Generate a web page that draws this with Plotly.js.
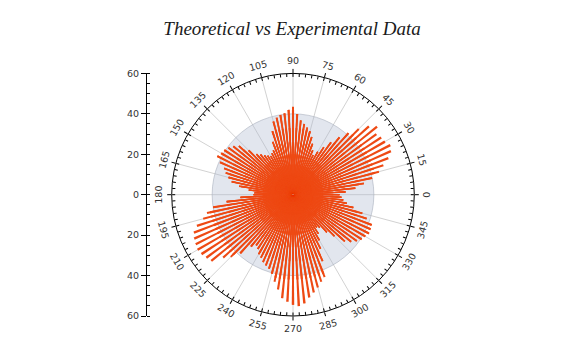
<!DOCTYPE html>
<html><head><meta charset="utf-8">
<script src="https://cdn.plot.ly/plotly-3.0.1.min.js"></script>
<style>html,body{margin:0;padding:0;background:#fff}</style>
</head><body><div id="chart" style="width:572px;height:354px"></div>
<script>
// Experimental bars, one every 3 degrees starting at 0 (counter-clockwise)
const experimental = [
  23, 26, 31, 35.5, 40, 44, 47, 50.5, 53, 54,
  52.5, 52, 51, 53.5, 50.5, 46, 41, 36.5, 32, 28,
  24.5, 22, 24, 27, 30, 32.5, 34, 35.5, 37, 40,
  43.5, 42, 40.5, 40, 39, 37.5, 33, 28, 24, 23,
  22, 23, 24, 25.5, 27, 31, 36, 38, 39.5, 40.5,
  41, 42, 39.5, 36.5, 35, 33, 31, 27, 22, 19,
  19.5, 26, 33, 40, 43.5, 46, 50, 52.5, 53.5, 54,
  54.5, 54, 53, 52, 46.5, 43.5, 39, 33, 31, 32,
  34, 35, 36.5, 37.5, 38.5, 40.5, 44, 47.5, 51.5, 53,
  54.5, 55.2, 54, 51.5, 49.5, 47.5, 45.3, 43.7, 36, 30,
  26, 23, 20, 21, 25, 29, 34.5, 37, 39, 40.5,
  41.3, 42.3, 42, 41.7, 38.3, 35.5, 30.5, 27, 25, 24
];
const expTheta0 = 0;
const expDTheta = 3;
// Theoretical level (shaded disc)
const theoretical = [40];
const theoreticalTheta = [0];
const theoreticalSpan = [360];

const angleTicks = [0,15,30,45,60,75,90,105,120,135,150,165,180,195,210,225,240,255,270,285,300,315,330,345];
const radialTickVals = [-60,-40,-20,0,20,40,60];
const radialTickText = ['60','40','20','0','20','40','60'];

const W = 572, H = 354;
const cx = 293, cy = 194.7, R = 121.3, labelR = 134;
const dom = {
  x: [(cx - R) / W, (cx + R) / W],
  y: [1 - (cy + R) / H, 1 - (cy - R) / H]
};

const tickFont = {family: 'DejaVu Sans, Verdana, sans-serif', size: 9.5, color: '#333'};
const barColor = '#ee4913';

// The original draws each bar as a strip of constant pixel width, so bars merge
// near the centre. Emulate with nested segments whose angular width shrinks outward.
const stripSteps = [[10, 3.0], [15, 2.6], [20, 2.2], [26, 1.9], [33, 1.65], [42, 1.45], [Infinity, 1.3]];

const traces = [
  {
    type: 'barpolar', name: 'Theoretical', subplot: 'polar',
    r: theoretical, theta: theoreticalTheta, width: theoreticalSpan,
    marker: {color: 'rgba(175,186,208,0.36)', line: {color: 'rgba(170,176,190,0.6)', width: 1}},
    hoverinfo: 'skip', showlegend: false
  }
];
stripSteps.forEach(([upper, w], k) => {
  traces.push({
    type: 'barpolar', name: 'Experimental', subplot: 'polar',
    r: experimental.map(v => Math.min(v, upper)),
    theta0: expTheta0, dtheta: expDTheta, width: w,
    marker: {color: barColor, line: {width: 0}},
    hoverinfo: k === stripSteps.length - 1 ? 'r+theta' : 'skip',
    showlegend: false
  });
});
traces.push({type: 'scatterpolar', subplot: 'polar2', r: [], theta: [], showlegend: false, hoverinfo: 'skip'});
traces.push({type: 'scatter', x: [], y: [], xaxis: 'x', yaxis: 'y', showlegend: false, hoverinfo: 'skip'});

const annotations = angleTicks.map(t => {
  const a = t * Math.PI / 180;
  const px = cx + labelR * Math.cos(a);
  const py = cy - labelR * Math.sin(a);
  let rot = 90 - t;
  while (rot >= 90) rot -= 180;
  while (rot < -90) rot += 180;
  return {
    xref: 'paper', yref: 'paper', x: px / W, y: 1 - py / H,
    xanchor: 'center', yanchor: 'middle', showarrow: false,
    text: String(t), textangle: rot, font: tickFont
  };
});

const layout = {
  width: W, height: H,
  margin: {l: 0, r: 0, t: 0, b: 0},
  paper_bgcolor: '#fff', plot_bgcolor: 'rgba(0,0,0,0)',
  showlegend: false,
  title: {
    text: '<i>Theoretical vs Experimental Data</i>',
    font: {family: 'Liberation Serif, Times New Roman, serif', size: 19, color: '#1a1a1a'},
    x: 292 / W, xanchor: 'center', xref: 'container',
    y: 1 - 28 / H, yanchor: 'middle', yref: 'container'
  },
  polar: {
    domain: dom,
    bgcolor: '#fff',
    barmode: 'overlay',
    radialaxis: {visible: false, range: [0, 60]},
    angularaxis: {
      direction: 'counterclockwise', rotation: 0,
      tickmode: 'linear', tick0: 0, dtick: 15,
      ticks: 'outside', ticklen: 4, tickcolor: '#000', tickwidth: 1,
      showticklabels: false,
      showline: true, linecolor: '#000', linewidth: 1,
      showgrid: true, gridcolor: '#d2d2d2', gridwidth: 1
    }
  },
  polar2: {
    domain: dom,
    bgcolor: 'rgba(0,0,0,0)',
    radialaxis: {visible: false, range: [0, 60]},
    angularaxis: {
      direction: 'counterclockwise', rotation: 0,
      tickmode: 'linear', tick0: 0, dtick: 3,
      ticks: 'inside', ticklen: 3, tickcolor: '#000', tickwidth: 1,
      showticklabels: false, showline: false, showgrid: false
    }
  },
  xaxis: {visible: false, domain: [0.3, 0.7], range: [0, 1], fixedrange: true},
  yaxis: {
    domain: dom.y, range: [-60, 60], autorange: false,
    anchor: 'free', position: 146 / W, side: 'left',
    tickmode: 'array', tickvals: radialTickVals, ticktext: radialTickText,
    ticks: 'outside', ticklen: 5, tickcolor: '#000', tickwidth: 1,
    minor: {dtick: 5, tick0: 0, ticks: 'inside', ticklen: 3, tickcolor: '#000', showgrid: false},
    showline: true, linecolor: '#000', linewidth: 1,
    showgrid: false, zeroline: false,
    tickfont: tickFont
  },
  annotations: annotations
};

Plotly.newPlot('chart', traces, layout, {staticPlot: true, displayModeBar: false});
</script>
</body></html>
